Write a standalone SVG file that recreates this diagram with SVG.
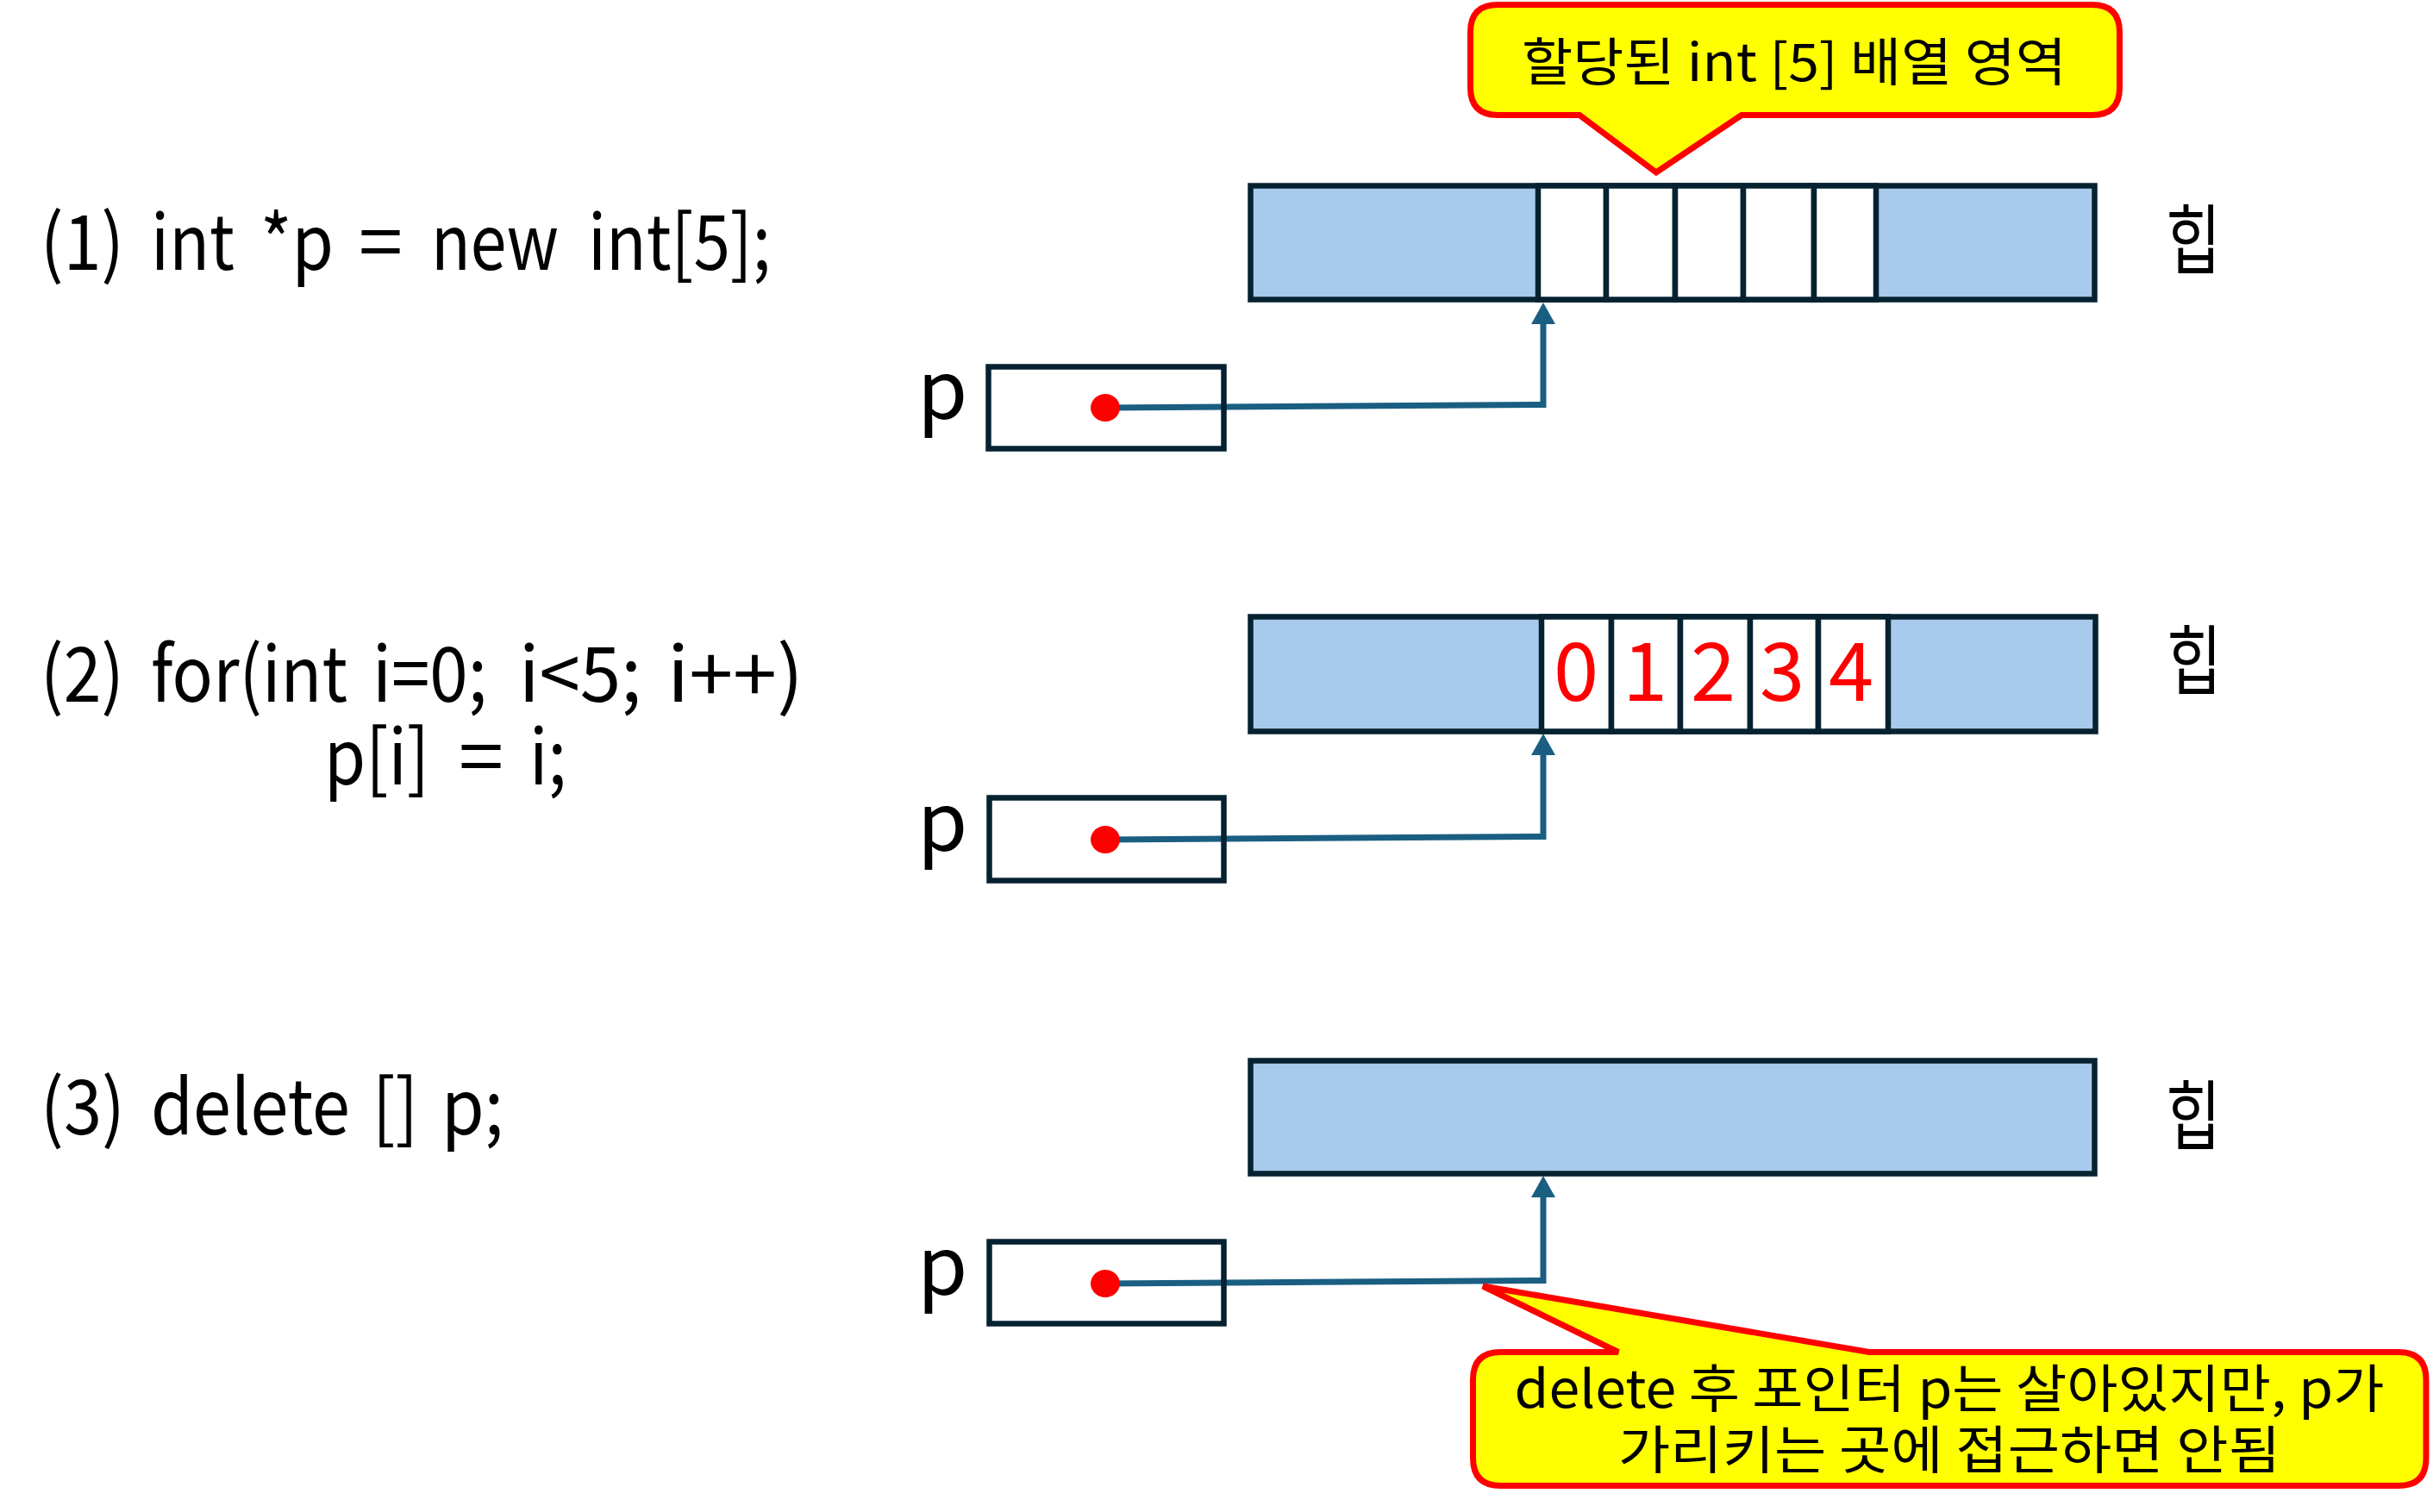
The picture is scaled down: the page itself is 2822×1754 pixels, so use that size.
<svg xmlns="http://www.w3.org/2000/svg" width="2822" height="1754" viewBox="0 0 2822 1754">
<style>
.code{font-family:"Noto Sans CJK KR","Noto Sans",sans-serif;font-size:88px;fill:#000}
.lbl{font-family:"Noto Sans CJK KR","Noto Sans",sans-serif;font-size:94px;fill:#000}
.heap{font-family:"Noto Sans CJK KR",sans-serif;font-size:88px;fill:#000}
.num{font-family:"Noto Sans CJK KR","Noto Sans",sans-serif;font-size:94px;fill:#FF0000;text-anchor:middle}
.note{font-family:"Noto Sans CJK KR",sans-serif;font-size:60px;fill:#000;text-anchor:middle}
.bar{fill:#A8CAEC;stroke:#062231;stroke-width:6.5}
.cell{fill:#FFFFFF;stroke:#062231;stroke-width:6.5}
.ptr{fill:none;stroke:#062231;stroke-width:6.5}
.dot{fill:#FF0000}
.conn{fill:none;stroke:#1A5E82;stroke-width:7;stroke-linejoin:miter}
.callout{fill:#FFFF00;stroke:#FF0000;stroke-width:7;stroke-linejoin:miter}
</style>
<defs>
<marker id="arr" markerUnits="userSpaceOnUse" markerWidth="26" markerHeight="28" viewBox="0 0 24 27" refX="0" refY="13.5" orient="auto">
<path d="M0,0 L24,13.5 L0,27 Z" fill="#1A5E82"/>
</marker>
</defs>
<rect width="2822" height="1754" fill="#FFFFFF"/>

<g id="code1">
<text class="code" x="47" y="313" textLength="97" lengthAdjust="spacingAndGlyphs">(1)</text>
<text class="code" x="175" y="313" textLength="97" lengthAdjust="spacingAndGlyphs">int</text>
<text class="code" x="302" y="313" textLength="85" lengthAdjust="spacingAndGlyphs">*p</text>
<text class="code" x="416" y="313" textLength="51" lengthAdjust="spacingAndGlyphs">=</text>
<text class="code" x="500" y="313" textLength="148" lengthAdjust="spacingAndGlyphs">new</text>
<text class="code" x="682" y="313" textLength="212" lengthAdjust="spacingAndGlyphs">int[5];</text>
</g>
<g id="code2">
<text class="code" x="47" y="814" textLength="97" lengthAdjust="spacingAndGlyphs">(2)</text>
<text class="code" x="175" y="814" textLength="228" lengthAdjust="spacingAndGlyphs">for(int</text>
<text class="code" x="432" y="814" textLength="133" lengthAdjust="spacingAndGlyphs">i=0;</text>
<text class="code" x="602" y="814" textLength="142" lengthAdjust="spacingAndGlyphs">i&lt;5;</text>
<text class="code" x="774" y="814" textLength="158" lengthAdjust="spacingAndGlyphs">i++)</text>
<text class="code" x="376" y="910" textLength="122" lengthAdjust="spacingAndGlyphs">p[i]</text>
<text class="code" x="532" y="910" textLength="52" lengthAdjust="spacingAndGlyphs">=</text>
<text class="code" x="614" y="910" textLength="43" lengthAdjust="spacingAndGlyphs">i;</text>
</g>
<g id="code3">
<text class="code" x="47" y="1316" textLength="98" lengthAdjust="spacingAndGlyphs">(3)</text>
<text class="code" x="175" y="1316" textLength="231" lengthAdjust="spacingAndGlyphs">delete</text>
<text class="code" x="432" y="1316" textLength="53" lengthAdjust="spacingAndGlyphs">[]</text>
<text class="code" x="512" y="1316" textLength="72" lengthAdjust="spacingAndGlyphs">p;</text>
</g>

<g id="heap1">
<rect class="bar" x="1450.5" y="215.5" width="979" height="132"/>
<rect class="cell" x="1784" y="215.5" width="79" height="132"/>
<rect class="cell" x="1863" y="215.5" width="80" height="132"/>
<rect class="cell" x="1943" y="215.5" width="79" height="132"/>
<rect class="cell" x="2022" y="215.5" width="82" height="132"/>
<rect class="cell" x="2104" y="215.5" width="72" height="132"/>
<text class="heap" x="2512" y="310" textLength="64" lengthAdjust="spacingAndGlyphs">힙</text>
</g>
<g id="heap2">
<rect class="bar" x="1450.5" y="715.5" width="980" height="133"/>
<rect class="cell" x="1788" y="715.5" width="81" height="133"/>
<rect class="cell" x="1869" y="715.5" width="80" height="133"/>
<rect class="cell" x="1949" y="715.5" width="81" height="133"/>
<rect class="cell" x="2030" y="715.5" width="79" height="133"/>
<rect class="cell" x="2109" y="715.5" width="81" height="133"/>
<text class="num" x="1828" y="813">0</text>
<text class="num" x="1908" y="813">1</text>
<text class="num" x="1987" y="813">2</text>
<text class="num" x="2067" y="813">3</text>
<text class="num" x="2147" y="813">4</text>
<text class="heap" x="2513" y="798" textLength="64" lengthAdjust="spacingAndGlyphs">힙</text>
</g>
<g id="heap3">
<rect class="bar" x="1450.5" y="1230.5" width="979" height="131"/>
<text class="heap" x="2512" y="1326" textLength="64" lengthAdjust="spacingAndGlyphs">힙</text>
</g>

<g id="connectors">
<path class="conn" d="M1282,473 L1790,469.5 L1790,376" marker-end="url(#arr)"/>
<path class="conn" d="M1282,974 L1790,970.5 L1790,876" marker-end="url(#arr)"/>
<path class="conn" d="M1282,1489 L1790,1485.5 L1790,1389" marker-end="url(#arr)"/>
</g>

<g id="ptr1">
<rect class="ptr" x="1146.5" y="425.5" width="273" height="95"/>
<ellipse class="dot" cx="1282" cy="473" rx="17" ry="16"/>
<text class="lbl" x="1064" y="486">p</text>
</g>
<g id="ptr2">
<rect class="ptr" x="1147.5" y="925.5" width="272" height="96"/>
<ellipse class="dot" cx="1282" cy="974" rx="17" ry="16"/>
<text class="lbl" x="1064" y="987">p</text>
</g>
<g id="ptr3">
<rect class="ptr" x="1147.5" y="1440.5" width="272" height="95"/>
<ellipse class="dot" cx="1282" cy="1489" rx="17" ry="16"/>
<text class="lbl" x="1064" y="1502">p</text>
</g>

<g id="callout1">
<path class="callout" d="M1737.5,5.5 H2426.5 Q2458.5,5.5 2458.5,37.5 V101.5 Q2458.5,133.5 2426.5,133.5 H2020 L1921,200 L1832,133.5 H1737.5 Q1705.5,133.5 1705.5,101.5 V37.5 Q1705.5,5.5 1737.5,5.5 Z"/>
<text class="note" x="2081" y="94" textLength="632" lengthAdjust="spacingAndGlyphs">할당된 int [5] 배열 영역</text>
</g>
<g id="callout2">
<path class="callout" d="M1740.5,1568.5 H1877 L1720,1492 L2168,1568.5 H2782 Q2814,1568.5 2814,1600.5 V1691.5 Q2814,1723.5 2782,1723.5 H1740.5 Q1708.5,1723.5 1708.5,1691.5 V1600.5 Q1708.5,1568.5 1740.5,1568.5 Z"/>
<text class="note" x="2261" y="1633" textLength="1009" lengthAdjust="spacingAndGlyphs">delete 후 포인터 p는 살아있지만, p가</text>
<text class="note" x="2261" y="1704" textLength="768" lengthAdjust="spacingAndGlyphs">가리키는 곳에 접근하면 안됨</text>
</g>
</svg>
